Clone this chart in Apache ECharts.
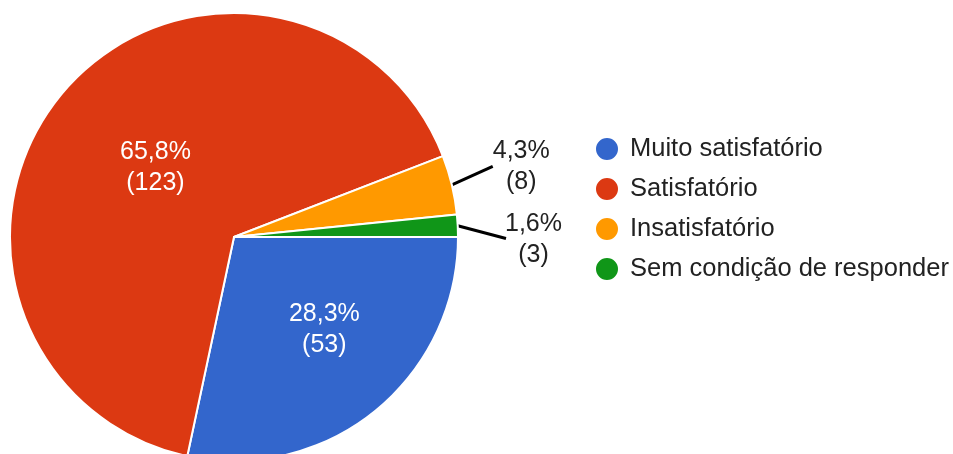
<!DOCTYPE html>
<html>
<head>
<meta charset="utf-8">
<script src="https://cdn.jsdelivr.net/npm/echarts@6/dist/echarts.min.js"></script>
<style>
  html, body { margin: 0; padding: 0; background: #fff; }
  #chart { width: 953px; height: 454px; }
</style>
</head>
<body>
<div id="chart"></div>
<script>
const categories = ['Muito satisfatório', 'Satisfatório', 'Insatisfatório', 'Sem condição de responder']
const counts = [53, 123, 8, 3]
const colors = ['#3366cc', '#dc3912', '#ff9900', '#109618']
// slices whose label sits inside the pie
const insideLabel = [true, true, false, false]

const total = counts.reduce((a, b) => a + b, 0)
const FONT = '"Liberation Sans", Arial, sans-serif'
// small nudges so labels and leader-line ends sit where the original renderer put them
const labelNudge = [[18, 3], [9, 5], [-3, -9], [7, 0]]
const lineEndNudge = [null, null, [2, -9], [13, -1]]

const pieData = categories.map((name, i) => ({
  name,
  value: counts[i],
  itemStyle: { color: colors[i] },
  label: insideLabel[i]
    ? { position: 'inside', color: '#fff' }
    : { position: 'outside', color: '#222' },
  labelLine: { show: !insideLabel[i] }
}))

const myChart = echarts.init(document.getElementById('chart'), null, { renderer: 'canvas' })

const layoutLabel = p => {
  const i = p.dataIndex
  const out = { dx: labelNudge[i][0], dy: labelNudge[i][1] }
  const pts = p.labelLinePoints
  if (lineEndNudge[i] && pts && pts.length) {
    const start = pts[0]
    const end = pts[pts.length - 1]
    out.labelLinePoints = [
      [start[0], start[1]],
      [end[0] + lineEndNudge[i][0], end[1] + lineEndNudge[i][1]]
    ]
  }
  return out
}

const option = {
  backgroundColor: '#fff',
  animation: false,
  legend: {
    orient: 'vertical',
    left: 589,
    top: 131,
    icon: 'circle',
    itemWidth: 24,
    itemHeight: 24,
    itemGap: 14,
    data: categories,
    textStyle: { color: '#222', fontSize: 25.5, fontFamily: FONT, padding: [0, 0, 0, 6] }
  },
  series: [
    {
      type: 'pie',
      center: [234, 237],
      radius: 224,
      startAngle: 0,
      clockwise: true,
      avoidLabelOverlap: true,
      itemStyle: { borderColor: '#fff', borderWidth: 2 },
      label: {
        fontSize: 25,
        fontFamily: FONT,
        lineHeight: 31,
        formatter: p => {
          const pct = (p.value / total * 100).toFixed(1).replace('.', ',')
          return '{a|' + pct + '%}\n{a|(' + p.value + ')}'
        },
        rich: {
          a: { align: 'center', fontSize: 25, fontFamily: FONT, lineHeight: 31 }
        }
      },
      labelLine: {
        length: 40,
        length2: 0,
        lineStyle: { color: '#000', width: 3 }
      },
      labelLayout: layoutLabel,
      data: pieData
    }
  ]
}

myChart.setOption(option)
</script>
</body>
</html>
